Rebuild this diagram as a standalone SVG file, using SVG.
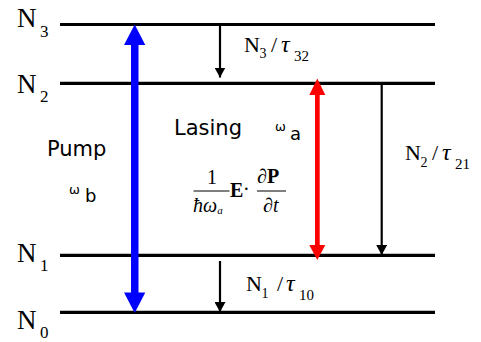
<svg xmlns="http://www.w3.org/2000/svg" width="481" height="342" viewBox="0 0 481 342">
<style>
.lvl{stroke:#000;stroke-width:3.2;fill:none}
.t{font-family:"Liberation Serif","Times New Roman",serif;fill:#000}
.c{font-family:"DejaVu Sans","Liberation Sans",sans-serif;fill:#000}
.thin{stroke:#000;stroke-width:2.2;fill:none}
</style>
<defs>
<marker id="ah" markerWidth="10" markerHeight="11" refX="10" refY="5.5" orient="auto" markerUnits="userSpaceOnUse" viewBox="0 0 10 11">
<path d="M0,0 L10,5.5 L0,11 Z" fill="#000"/>
</marker>
</defs>
<g id="levels">
<g id="N3"><line class="lvl" x1="60" y1="24.5" x2="435" y2="24.5"/><text class="t" font-size="27" x="17" y="27">N</text><text class="t" font-size="17" x="40" y="37">3</text></g>
<g id="N2"><line class="lvl" x1="60" y1="83.3" x2="435" y2="83.3"/><text class="t" font-size="27" x="17" y="93">N</text><text class="t" font-size="17" x="40" y="102">2</text></g>
<g id="N1"><line class="lvl" x1="60" y1="255.3" x2="435" y2="255.3"/><text class="t" font-size="27" x="17" y="262">N</text><text class="t" font-size="17" x="40" y="271">1</text></g>
<g id="N0"><line class="lvl" x1="60" y1="312.3" x2="435" y2="312.3"/><text class="t" font-size="27" x="17" y="329">N</text><text class="t" font-size="17" x="40" y="338">0</text></g>
</g>
<g id="connectors">
<g id="pump">
<rect x="131" y="44" width="7.5" height="250" fill="#0000ff"/>
<path d="M134.7,24.5 L145.3,45 L124,45 Z" fill="#0000ff"/>
<path d="M134.7,313 L145.3,292.5 L124,292.5 Z" fill="#0000ff"/>
</g>
<g id="lasing">
<rect x="315" y="94" width="4.7" height="152" fill="#ff0000"/>
<path d="M317.3,78.5 L325.3,95 L309.3,95 Z" fill="#ff0000"/>
<path d="M317.3,260 L325.3,245 L309.3,245 Z" fill="#ff0000"/>
</g>
<line class="thin" x1="220" y1="25" x2="220" y2="77.5" marker-end="url(#ah)"/>
<line class="thin" x1="381.7" y1="84" x2="381.7" y2="255" marker-end="url(#ah)"/>
<line class="thin" x1="220" y1="261" x2="220" y2="312" marker-end="url(#ah)"/>
</g>
<g id="labels">
<text class="t" font-size="22" x="244" y="52">N<tspan x="259.5" y="58" font-size="14">3</tspan><tspan x="271" y="52">/</tspan><tspan x="281" y="52" font-style="italic" font-size="24">τ</tspan><tspan x="294" y="61" font-size="15">32</tspan></text>
<text class="t" font-size="22" x="405" y="160">N<tspan x="420.5" y="167" font-size="14">2</tspan><tspan x="432" y="160">/</tspan><tspan x="442" y="160" font-style="italic" font-size="24">τ</tspan><tspan x="455" y="169" font-size="15">21</tspan></text>
<text class="t" font-size="22" x="246" y="291">N<tspan x="261.5" y="298" font-size="14">1</tspan><tspan x="277" y="291">/</tspan><tspan x="286" y="291" font-style="italic" font-size="24">τ</tspan><tspan x="299" y="300" font-size="15">10</tspan></text>
<text class="c" font-size="21" x="47" y="156">Pump</text>
<text class="c" font-size="13" x="69" y="194">ω</text>
<text class="c" font-size="18" x="85" y="202">b</text>
<text class="c" font-size="21" x="174" y="135">Lasing</text>
<text class="c" font-size="13" x="275" y="131">ω</text>
<text class="c" font-size="18" x="290" y="140">a</text>
<g id="formula">
<text class="t" font-size="20" x="207" y="184">1</text>
<line x1="193.5" y1="191" x2="229.5" y2="191" stroke="#000" stroke-width="1"/>
<text class="t" font-size="20" x="193" y="212" font-style="italic">ħω<tspan font-size="11" dy="2">a</tspan></text>
<text class="t" font-size="20" x="230" y="197" font-weight="bold">E</text>
<text class="t" font-size="20" x="243" y="196">·</text>
<text class="t" font-size="20" x="257" y="183">∂<tspan font-weight="bold">P</tspan></text>
<line x1="257" y1="191" x2="286" y2="191" stroke="#000" stroke-width="1"/>
<text class="t" font-size="20" x="263" y="212">∂<tspan font-style="italic">t</tspan></text>
</g>
</g>
</svg>
